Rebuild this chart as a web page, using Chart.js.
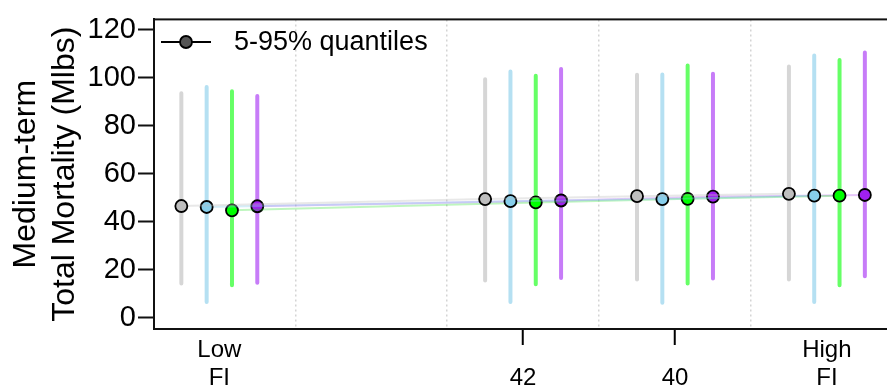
<!DOCTYPE html>
<html>
<head>
<meta charset="utf-8">
<script src="https://cdn.jsdelivr.net/npm/chart.js@4/dist/chart.umd.min.js"></script>
<style>
  html, body { margin: 0; padding: 0; overflow: hidden; background: #fff; }
  #wrap { position: absolute; left: 0; top: 0; width: 900px; height: 389px; }
</style>
</head>
<body>
<div id="wrap"><canvas id="chart"></canvas></div>
<script>
// FI level of each group (axis runs from low FI on the left to high FI on the right)
const groupFI = [46, 42, 40, 38]
const tickLabels = { 46: ['Low', 'FI'], 42: ['', '42'], 40: ['', '40'], 38: ['High', 'FI'] }
const tickedFI = [42, 40]
const dividers = [45, 43, 41, 39]

// series order left -> right inside each group
const seriesNames = ['grey', 'skyblue', 'green', 'purple']
const seriesShift = [0.5, 1/6, -1/6, -0.5]

// medians
const medGrey = [46.6, 49.5, 50.7, 51.7]
const medBlue = [46.2, 48.6, 49.5, 50.9]
const medGreen = [44.8, 48.1, 49.6, 50.9]
const medPurple = [46.5, 48.9, 50.5, 51.2]

// 5% quantiles
const lowGrey = [14.3, 15.6, 16.0, 16.0]
const lowBlue = [6.6, 6.6, 6.3, 6.6]
const lowGreen = [13.6, 14.0, 14.3, 13.6]
const lowPurple = [14.7, 16.6, 16.4, 17.4]

// 95% quantiles
const highGrey = [93.6, 99.4, 101.3, 104.7]
const highBlue = [96.2, 102.6, 101.4, 109.3]
const highGreen = [94.4, 100.8, 105.1, 107.4]
const highPurple = [92.4, 103.7, 101.7, 110.5]

const yTicks = [0, 20, 40, 60, 80, 100, 120]

const meds = [medGrey, medBlue, medGreen, medPurple]
const lows = [lowGrey, lowBlue, lowGreen, lowPurple]
const highs = [highGrey, highBlue, highGreen, highPurple]

const pointColors = ['#bebebe', '#87ceeb', '#00ff00', '#a020f0']
const barColors = ['#d6d6d6', '#b5e0f2', '#66ff66', '#c77cf8']
const joinColors = ['rgba(190,190,190,0.35)', 'rgba(135,206,235,0.35)', 'rgba(0,220,0,0.25)', 'rgba(160,32,240,0.25)']

const FONT = "'Liberation Sans', Arial, sans-serif"

const datasets = []
seriesNames.forEach((name, s) => {
    // quantile bars: one segment per group, broken by a null point
    const segs = []
    groupFI.forEach((fi, g) => {
        const x = fi + seriesShift[s]
        segs.push({ x: x, y: lows[s][g] }, { x: x, y: highs[s][g] }, { x: x, y: null })
    })
    datasets.push({
        label: name + ' 5-95%',
        data: segs,
        borderColor: barColors[s],
        borderWidth: 4,
        borderCapStyle: 'round',
        pointRadius: 0,
        spanGaps: false,
        order: 2
    })
    datasets.push({
        label: name,
        data: groupFI.map((fi, g) => ({ x: fi + seriesShift[s], y: meds[s][g] })),
        borderColor: joinColors[s],
        borderWidth: 2,
        pointRadius: 6,
        pointBackgroundColor: pointColors[s],
        pointBorderColor: '#000',
        pointBorderWidth: 1.8,
        order: 1
    })
})

const boxAndLegend = {
    id: 'boxAndLegend',
    afterDraw(chart) {
        const { ctx, chartArea: a } = chart
        ctx.save()
        ctx.strokeStyle = '#111'
        ctx.lineWidth = 2
        ctx.strokeRect(a.left, a.top, a.right - a.left, a.bottom - a.top)

        // legend
        ctx.lineWidth = 2
        ctx.strokeStyle = '#000'
        ctx.beginPath()
        ctx.moveTo(161, 42)
        ctx.lineTo(211, 42)
        ctx.stroke()
        ctx.beginPath()
        ctx.arc(186, 42, 6, 0, Math.PI * 2)
        ctx.fillStyle = '#555'
        ctx.fill()
        ctx.lineWidth = 1.8
        ctx.stroke()
        ctx.fillStyle = '#000'
        ctx.font = '27px ' + FONT
        ctx.textBaseline = 'middle'
        ctx.fillText('5-95% quantiles', 234, 43)
        ctx.restore()
    }
}

new Chart(document.getElementById('chart'), {
    type: 'line',
    data: { datasets: datasets },
    options: {
        responsive: true,
        maintainAspectRatio: false,
        devicePixelRatio: 1,
        animation: false,
        layout: { padding: { top: 10, right: 2, left: 0, bottom: 0 } },
        plugins: { legend: { display: false }, tooltip: { enabled: false } },
        scales: {
            x: {
                type: 'linear',
                reverse: true,
                min: 37.14,
                max: 46.86,
                afterBuildTicks: scale => {
                    scale.ticks = groupFI.concat(dividers).sort((a, b) => b - a).map(v => ({ value: v }))
                },
                afterFit: scale => { scale.height = 60 },
                ticks: {
                    autoSkip: false,
                    maxRotation: 0,
                    padding: -9,
                    color: '#000',
                    font: { family: FONT, size: 24, lineHeight: 1.17 },
                    callback: v => tickLabels[v] || ''
                },
                grid: {
                    color: ctx => dividers.includes(ctx.tick && ctx.tick.value) ? '#d4d4d4' : 'rgba(0,0,0,0)',
                    lineWidth: 1.5,
                    tickLength: 16,
                    tickWidth: 2,
                    tickColor: ctx => tickedFI.includes(ctx.tick && ctx.tick.value) ? '#000' : 'rgba(0,0,0,0)'
                },
                border: { display: true, color: '#111', width: 2, dash: [2, 3] }
            },
            y: {
                min: -4.6,
                max: 124.3,
                afterBuildTicks: scale => {
                    scale.ticks = yTicks.map(v => ({ value: v }))
                },
                afterFit: scale => { scale.width = 154 },
                ticks: {
                    padding: 2,
                    color: '#000',
                    font: { family: FONT, size: 29 }
                },
                grid: {
                    drawOnChartArea: false,
                    tickLength: 16,
                    tickWidth: 2,
                    tickColor: '#111'
                },
                border: { display: true, color: '#111', width: 2 },
                title: {
                    display: true,
                    text: ['Medium-term', 'Total Mortality (Mlbs)'],
                    color: '#000',
                    font: { family: FONT, size: 32, lineHeight: 1.22 },
                    padding: { top: 7, bottom: 0 }
                }
            }
        }
    },
    plugins: [boxAndLegend]
})
</script>
</body>
</html>
